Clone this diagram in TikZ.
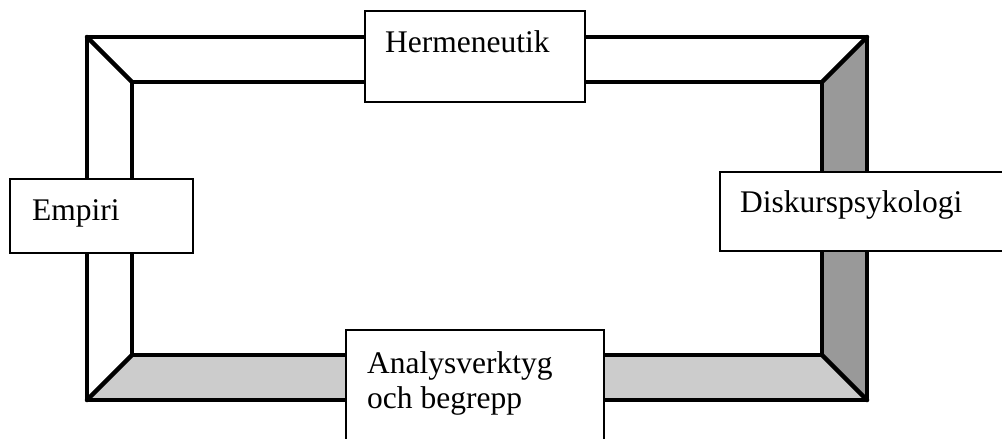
\documentclass[tikz,border=0pt]{standalone}
\usepackage{fontspec}
\setmainfont{Liberation Serif}
\begin{document}
\begin{tikzpicture}[x=1pt,y=-1pt,
  frameline/.style={line width=4.5pt,line join=round,line cap=round},
  labelbox/.style={draw,fill=white,line width=1.5pt},
  label/.style={anchor=base west,inner sep=0pt,font=\fontsize{31.5}{35}\selectfont}]
\useasboundingbox (0,0) rectangle (1002,439);
\clip (0,0) rectangle (1002,439);
% corner points of the frame
\coordinate (o1) at (87,37);
\coordinate (o2) at (867,37);
\coordinate (o3) at (867,400);
\coordinate (o4) at (87,400);
\coordinate (i1) at (132,82);
\coordinate (i2) at (822,82);
\coordinate (i3) at (822,355);
\coordinate (i4) at (132,355);
% shaded sides
\fill[gray!40] (o4) -- (o3) -- (i3) -- (i4) -- cycle;
\fill[gray!80] (o2) -- (o3) -- (i3) -- (i2) -- cycle;
% frame outlines and corner bevels
\draw[frameline] (o1) -- (o2) -- (o3) -- (o4) -- cycle;
\draw[frameline] (i1) -- (i2) -- (i3) -- (i4) -- cycle;
\draw[frameline] (o1) -- (i1);
\draw[frameline] (o2) -- (i2);
\draw[frameline] (o3) -- (i3);
\draw[frameline] (o4) -- (i4);
% label boxes
\draw[labelbox] (365,11) rectangle (585,102);
\draw[labelbox] (10,179) rectangle (193,253);
\draw[labelbox] (720,172) rectangle (1015,251);
\draw[labelbox] (346,330) rectangle (604,460);
% texts
\node[label] (herm) at (385,52) {Hermeneutik};
\node[label] (emp) at (32,220) {Empiri};
\node[label] (disk) at (740,212) {Diskurspsykologi};
\node[label] (ana1) at (367,373) {Analysverktyg};
\node[label] (ana2) at (367,408) {och begrepp};
\end{tikzpicture}
\end{document}
